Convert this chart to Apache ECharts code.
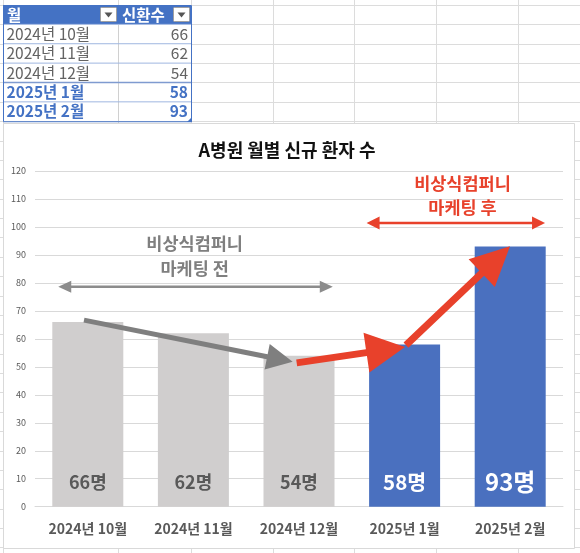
<!DOCTYPE html>
<html><head><meta charset="utf-8">
<script src="https://cdn.jsdelivr.net/npm/echarts@6/dist/echarts.min.js"></script>
<style>html,body{margin:0;padding:0;background:#fff}#c{width:580px;height:553px}</style>
</head><body><div id="c"></div>
<script>
// ---- data ----
const months = ['2024년 10월', '2024년 11월', '2024년 12월', '2025년 1월', '2025년 2월'];
const newPatients = [66, 62, 54, 58, 93];
const tableHeaders = ['월', '신환수'];
const chartTitle = 'A병원 월별 신규 환자 수';
const beforeText = ['비상식컴퍼니', '마케팅 전'];
const afterText = ['비상식컴퍼니', '마케팅 후'];
const unit = '명';
const afterStartIndex = 3;
const yMin = 0, yMax = 120, yStep = 10;

// ---- styles ----
const FONT = '"Noto Sans CJK KR", "Noto Sans", sans-serif';
const GRAY_BAR = '#D0CECE', BLUE = '#4A70BF', RED = '#E8412B';
const TXT = '#595959', GRID = '#D9D9D9', SHEET = '#DCDCDC';
const labelSizes = [18, 18, 18, 20.5, 24];
const labelDist = [15.5, 15.5, 15.5, 14.5, 12.5];

const chart = echarts.init(document.getElementById('c'));
chart.setOption({
  animation: false,
  backgroundColor: '#fff',
  grid: { left: 35, right: 17, top: 171, bottom: 46.3, containLabel: false, outerBoundsMode: 'none' },
  xAxis: {
    type: 'category', data: months,
    axisLine: { show: true, lineStyle: { color: GRID, width: 1 } },
    axisTick: { show: false },
    axisLabel: { color: TXT, fontSize: 14, fontWeight: 'bold', fontFamily: FONT, margin: 15 }
  },
  yAxis: {
    type: 'value', min: yMin, max: yMax, interval: yStep,
    axisLine: { show: false }, axisTick: { show: false },
    splitLine: { show: true, lineStyle: { color: GRID, width: 1 } },
    axisLabel: { color: TXT, fontSize: 9, fontFamily: FONT, margin: 9 }
  },
  series: [{
    type: 'bar', barWidth: 71, z: 2,
    label: { show: true, position: 'insideBottom', fontWeight: 'bold', fontFamily: FONT,
             formatter: p => p.value + unit },
    data: newPatients.map((v, i) => {
      const after = i >= afterStartIndex;
      return {
        value: v,
        itemStyle: { color: after ? BLUE : GRAY_BAR },
        label: { fontSize: labelSizes[i], color: after ? '#fff' : TXT, distance: labelDist[i] }
      };
    })
  }]
});

// ---- coordinate helpers (category position, value) -> pixel ----
const c0 = chart.convertToPixel({ xAxisIndex: 0 }, 0);
const c1 = chart.convertToPixel({ xAxisIndex: 0 }, 1);
function P(cat, val) {
  return [c0 + cat * (c1 - c0), chart.convertToPixel({ yAxisIndex: 0 }, val)];
}
function arrow(a, b, sw, hl, hw) {
  const dx = b[0] - a[0], dy = b[1] - a[1], L = Math.hypot(dx, dy);
  const ux = dx / L, uy = dy / L, nx = -uy, ny = ux;
  const bx = b[0] - ux * hl, by = b[1] - uy * hl;
  return [
    [a[0] + nx * sw / 2, a[1] + ny * sw / 2], [bx + nx * sw / 2, by + ny * sw / 2],
    [bx + nx * hw / 2, by + ny * hw / 2], b,
    [bx - nx * hw / 2, by - ny * hw / 2], [bx - nx * sw / 2, by - ny * sw / 2],
    [a[0] - nx * sw / 2, a[1] - ny * sw / 2]
  ];
}
function dblArrow(a, b, sw, hl, hw) {
  const dx = b[0] - a[0], dy = b[1] - a[1], L = Math.hypot(dx, dy);
  const ux = dx / L, uy = dy / L, nx = -uy, ny = ux;
  const ax = a[0] + ux * hl, ay = a[1] + uy * hl;
  const bx = b[0] - ux * hl, by = b[1] - uy * hl;
  return [
    a, [ax + nx * hw / 2, ay + ny * hw / 2], [ax + nx * sw / 2, ay + ny * sw / 2],
    [bx + nx * sw / 2, by + ny * sw / 2], [bx + nx * hw / 2, by + ny * hw / 2], b,
    [bx - nx * hw / 2, by - ny * hw / 2], [bx - nx * sw / 2, by - ny * sw / 2],
    [ax - nx * sw / 2, ay - ny * sw / 2], [ax - nx * hw / 2, ay - ny * hw / 2]
  ];
}
function txt(x, y, text, font, fill, align) {
  return { type: 'text', x: x, y: y, z: 100, silent: true,
    style: { text: text, font: font, fill: fill, textAlign: align || 'center', align: align || 'center',
             textVerticalAlign: 'middle', verticalAlign: 'middle' } };
}

const g = [];
// spreadsheet grid behind everything
const W = 580, H = 553, rowH = 19.37, rowTop = 5;
for (let n = 0; n < 30; n++) {
  const y = Math.round(rowTop + n * rowH) + 0.5;
  g.push({ type: 'line', z: -20, silent: true, shape: { x1: 0, y1: y, x2: W, y2: y }, style: { stroke: SHEET, lineWidth: 1 } });
}
[3, 118, 191, 273, 354, 436, 518].forEach(x => {
  g.push({ type: 'line', z: -20, silent: true, shape: { x1: x + 0.5, y1: 0, x2: x + 0.5, y2: H }, style: { stroke: SHEET, lineWidth: 1 } });
});
// chart area
g.push({ type: 'rect', z: -15, silent: true, shape: { x: 3.5, y: 123.5, width: 571, height: 425 },
  style: { fill: '#fff', stroke: GRID, lineWidth: 1 } });

// table
const tX = 3, tW = 188, tMid = 118;
g.push({ type: 'rect', z: -10, silent: true, shape: { x: tX, y: rowTop, width: tW, height: rowH }, style: { fill: '#4472C4' } });
g.push({ type: 'rect', z: -10, silent: true, shape: { x: tX, y: rowTop + rowH, width: tW, height: rowH * months.length }, style: { fill: '#fff' } });
g.push({ type: 'line', z: -9, silent: true, shape: { x1: tMid + 0.5, y1: rowTop + rowH, x2: tMid + 0.5, y2: rowTop + rowH * 6 }, style: { stroke: '#D0D0D0', lineWidth: 1 } });
for (let r = 1; r <= months.length; r++) {
  const y = rowTop + rowH * r;
  g.push({ type: 'line', z: -8, silent: true, shape: { x1: tX, y1: y, x2: tX + tW, y2: y },
    style: { stroke: r === afterStartIndex + 1 ? '#7F9BD0' : '#9FB6E0', lineWidth: r === afterStartIndex + 1 ? 1.6 : 1 } });
}
g.push({ type: 'rect', z: -7, silent: true, shape: { x: tX + 0.5, y: rowTop + 0.5, width: tW, height: rowH * 6 }, style: { fill: 'none', stroke: '#4472C4', lineWidth: 1 } });
// header text + dropdown buttons
g.push(txt(7, rowTop + rowH / 2, tableHeaders[0], 'bold 15.5px ' + FONT, '#fff', 'left'));
g.push(txt(122, rowTop + rowH / 2, tableHeaders[1], 'bold 15.5px ' + FONT, '#fff', 'left'));
[100.5, 173.5].forEach(bx => {
  g.push({ type: 'rect', z: 90, silent: true, shape: { x: bx, y: 7.5, width: 16, height: 14, r: 1 }, style: { fill: '#fff', stroke: '#A0A0A0', lineWidth: 1 } });
  g.push({ type: 'polygon', z: 91, silent: true, shape: { points: [[bx + 4, 12.5], [bx + 12, 12.5], [bx + 8, 17.5]] }, style: { fill: '#555' } });
});
months.forEach((m, i) => {
  const y = rowTop + rowH * (i + 1.5);
  const after = i >= afterStartIndex;
  const f = (after ? 'bold ' : '') + '15.5px ' + FONT;
  const col = after ? '#4472C4' : '#636363';
  g.push(txt(6.5, y, m, f, col, 'left'));
  g.push(txt(188, y, String(newPatients[i]), f, col, 'right'));
});
g.push({ type: 'polygon', z: 92, silent: true, shape: { points: [[187, 122], [192, 122], [192, 117]] }, style: { fill: '#4472C4' } });

// title
g.push(txt(287, 150, chartTitle, 'bold 18px ' + FONT, '#111'));

// annotations
const grayArrow = arrow(P(-0.036, 66.7), P(1.94, 51.8), 5, 26, 26);
const red1 = arrow(P(1.978, 51.4), P(3.004, 57.1), 7, 39, 40);
const red2 = arrow(P(3.013, 57.75), P(3.998, 93.1), 7, 39, 38);
const grayDbl = dblArrow(P(-0.28, 78.6), P(2.32, 78.6), 2.4, 13, 12);
const redDbl = dblArrow(P(2.64, 101.4), P(4.33, 101.4), 2.6, 13, 13);
g.push({ type: 'polygon', z: 100, silent: true, shape: { points: grayArrow }, style: { fill: '#7F7F7F' } });
g.push({ type: 'polygon', z: 100, silent: true, shape: { points: red1 }, style: { fill: RED } });
g.push({ type: 'polygon', z: 100, silent: true, shape: { points: red2 }, style: { fill: RED } });
g.push({ type: 'polygon', z: 100, silent: true, shape: { points: grayDbl }, style: { fill: '#8C8C8C' } });
g.push({ type: 'polygon', z: 100, silent: true, shape: { points: redDbl }, style: { fill: RED } });

const gt = P(1.012, 89.6), rt = P(3.548, 111.3);
g.push(txt(gt[0], gt[1] - 12.5, beforeText[0], 'bold 17.5px ' + FONT, '#7F7F7F'));
g.push(txt(gt[0], gt[1] + 12.5, beforeText[1], 'bold 17.5px ' + FONT, '#7F7F7F'));
g.push(txt(rt[0], rt[1] - 12, afterText[0], 'bold 17.5px ' + FONT, RED));
g.push(txt(rt[0], rt[1] + 12, afterText[1], 'bold 17.5px ' + FONT, RED));

chart.setOption({ graphic: { elements: g } });
</script>
</body></html>
